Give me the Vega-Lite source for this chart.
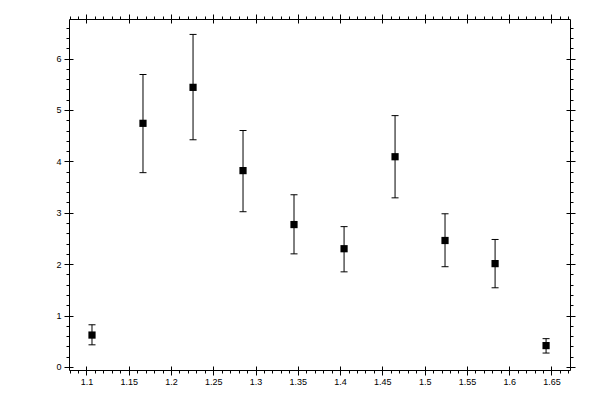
{
  "$schema": "https://vega.github.io/schema/vega-lite/v6.json",
  "description": "Measured values with error bars",
  "autosize": "none",
  "padding": {"left": 69, "top": 19, "right": 30, "bottom": 30},
  "width": 501,
  "height": 351,
  "background": "white",
  "config": {
    "view": {"stroke": null},
    "axis": {
      "grid": false,
      "title": null,
      "domainColor": "black",
      "domainWidth": 1,
      "tickColor": "black",
      "tickWidth": 1,
      "labelFont": "Liberation Sans",
      "labelFontSize": 9,
      "labelColor": "black",
      "labelOverlap": false,
      "labelFlush": false
    }
  },
  "data": {
    "values": [
      {"x": 1.1066, "y": 0.62, "lo": 0.43, "hi": 0.82},
      {"x": 1.1669, "y": 4.74, "lo": 3.78, "hi": 5.69},
      {"x": 1.2261, "y": 5.44, "lo": 4.42, "hi": 6.47},
      {"x": 1.2852, "y": 3.82, "lo": 3.02, "hi": 4.6},
      {"x": 1.3455, "y": 2.77, "lo": 2.2, "hi": 3.35},
      {"x": 1.4047, "y": 2.3, "lo": 1.85, "hi": 2.73},
      {"x": 1.465, "y": 4.09, "lo": 3.29, "hi": 4.89},
      {"x": 1.5241, "y": 2.46, "lo": 1.95, "hi": 2.98},
      {"x": 1.5833, "y": 2.01, "lo": 1.54, "hi": 2.48},
      {"x": 1.6436, "y": 0.415, "lo": 0.27, "hi": 0.55}
    ]
  },
  "resolve": {"axis": {"x": "independent", "y": "independent"}},
  "layer": [
    {
      "mark": {"type": "errorbar", "color": "black", "ticks": {"size": 7, "thickness": 1, "color": "black", "opacity": 1}, "rule": {"color": "black", "strokeWidth": 1, "opacity": 1}},
      "encoding": {
        "x": {
          "field": "x", "type": "quantitative", "title": null,
          "scale": {"domain": [1.0794, 1.6719], "nice": false, "zero": false},
          "axis": {
            "orient": "top", "labels": false, "title": null,
            "values": [1.08,1.09,1.1,1.11,1.12,1.13,1.14,1.15,1.16,1.17,1.18,1.19,1.2,1.21,1.22,1.23,1.24,1.25,1.26,1.27,1.28,1.29,1.3,1.31,1.32,1.33,1.34,1.35,1.36,1.37,1.38,1.39,1.4,1.41,1.42,1.43,1.44,1.45,1.46,1.47,1.48,1.49,1.5,1.51,1.52,1.53,1.54,1.55,1.56,1.57,1.58,1.59,1.6,1.61,1.62,1.63,1.64,1.65,1.66,1.67],
            "tickSize": {"condition": {"test": "abs(datum.value * 20 - round(datum.value * 20)) < 0.001", "value": 5}, "value": 3}
          }
        },
        "y": {
          "field": "lo", "type": "quantitative", "title": null,
          "scale": {"domain": [-0.06, 6.77], "nice": false, "zero": false},
          "axis": {
            "orient": "right", "labels": false, "title": null,
            "values": [0,0.2,0.4,0.6,0.8,1,1.2,1.4,1.6,1.8,2,2.2,2.4,2.6,2.8,3,3.2,3.4,3.6,3.8,4,4.2,4.4,4.6,4.8,5,5.2,5.4,5.6,5.8,6,6.2,6.4,6.6],
            "tickSize": {"condition": {"test": "abs(datum.value - round(datum.value)) < 0.001", "value": 5}, "value": 3}
          }
        },
        "y2": {"field": "hi"}
      }
    },
    {
      "mark": {"type": "point", "shape": "square", "filled": true, "color": "black", "opacity": 1, "size": 52},
      "encoding": {
        "x": {
          "field": "x", "type": "quantitative",
          "axis": {
            "orient": "bottom",
            "values": [1.08,1.09,1.1,1.11,1.12,1.13,1.14,1.15,1.16,1.17,1.18,1.19,1.2,1.21,1.22,1.23,1.24,1.25,1.26,1.27,1.28,1.29,1.3,1.31,1.32,1.33,1.34,1.35,1.36,1.37,1.38,1.39,1.4,1.41,1.42,1.43,1.44,1.45,1.46,1.47,1.48,1.49,1.5,1.51,1.52,1.53,1.54,1.55,1.56,1.57,1.58,1.59,1.6,1.61,1.62,1.63,1.64,1.65,1.66,1.67],
            "labelExpr": "abs(datum.value * 20 - round(datum.value * 20)) < 0.001 ? format(datum.value, '.2~f') : ''",
            "labelPadding": 2,
            "tickSize": {"condition": {"test": "abs(datum.value * 20 - round(datum.value * 20)) < 0.001", "value": 5}, "value": 3}
          }
        },
        "y": {
          "field": "y", "type": "quantitative",
          "axis": {
            "orient": "left",
            "values": [0,0.2,0.4,0.6,0.8,1,1.2,1.4,1.6,1.8,2,2.2,2.4,2.6,2.8,3,3.2,3.4,3.6,3.8,4,4.2,4.4,4.6,4.8,5,5.2,5.4,5.6,5.8,6,6.2,6.4,6.6],
            "labelExpr": "abs(datum.value - round(datum.value)) < 0.001 ? format(datum.value, 'd') : ''",
            "labelPadding": 3,
            "tickSize": {"condition": {"test": "abs(datum.value - round(datum.value)) < 0.001", "value": 5}, "value": 3}
          }
        }
      }
    },
    {
      "mark": {"type": "point", "opacity": 0},
      "encoding": {
        "x": {
          "field": "x", "type": "quantitative",
          "axis": {"orient": "top", "labels": false, "domain": false, "tickSize": -4, "values": [1.1,1.15,1.2,1.25,1.3,1.35,1.4,1.45,1.5,1.55,1.6,1.65]}
        },
        "y": {
          "field": "y", "type": "quantitative",
          "axis": {"orient": "right", "labels": false, "domain": false, "tickSize": -4, "values": [0,1,2,3,4,5,6]}
        }
      }
    },
    {
      "mark": {"type": "point", "opacity": 0},
      "encoding": {
        "x": {
          "field": "x", "type": "quantitative",
          "axis": {"orient": "bottom", "labels": false, "domain": false, "tickSize": -4, "values": [1.1,1.15,1.2,1.25,1.3,1.35,1.4,1.45,1.5,1.55,1.6,1.65]}
        },
        "y": {
          "field": "y", "type": "quantitative",
          "axis": {"orient": "left", "labels": false, "domain": false, "tickSize": -4, "values": [0,1,2,3,4,5,6]}
        }
      }
    }
  ]
}
